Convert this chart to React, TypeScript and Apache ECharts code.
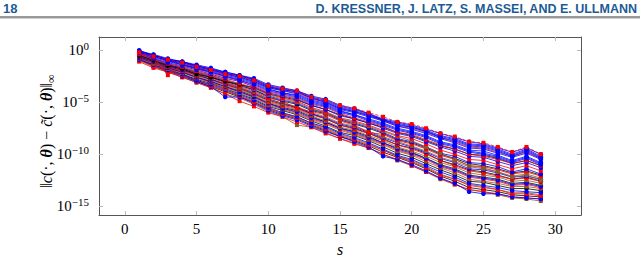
import React, { useEffect, useRef } from "react";
import * as echarts from "echarts";

// x positions (s) and log10 of the error for every run
const sValues = [1, 2, 3, 4, 5, 6, 7, 8, 9, 10, 11, 12, 13, 14, 15, 16, 17, 18, 19, 20, 21, 22, 23, 24, 25, 26, 27, 28, 29];

const blue01 = [-0.1,-0.4,-0.8,-1.1,-1.4,-1.7,-2.1,-2.4,-2.7,-3.3,-3.6,-3.9,-4.4,-4.7,-5.3,-5.6,-6.1,-6.6,-6.9,-7.2,-7.6,-8.0,-8.4,-8.8,-9.0,-9.4,-9.8,-9.4,-10.0];
const blue02 = [0.0,-0.5,-0.9,-1.1,-1.5,-1.8,-2.1,-2.4,-2.8,-3.4,-3.7,-3.9,-4.5,-4.8,-5.4,-5.7,-6.1,-6.7,-7.0,-7.3,-7.7,-8.2,-8.5,-9.0,-9.1,-9.5,-10.0,-9.5,-10.2];
const blue03 = [-0.1,-0.5,-0.9,-1.2,-1.5,-1.9,-2.2,-2.5,-2.9,-3.5,-3.8,-4.0,-4.6,-5.0,-5.6,-5.9,-6.3,-6.7,-7.2,-7.4,-7.8,-8.4,-8.7,-9.2,-9.3,-9.7,-10.2,-9.7,-10.4];
const blue04 = [-0.1,-0.5,-1.0,-1.2,-1.6,-1.9,-2.3,-2.6,-3.0,-3.6,-3.9,-4.2,-4.8,-5.1,-5.7,-6.0,-6.4,-6.8,-7.3,-7.6,-8.0,-8.5,-8.9,-9.4,-9.5,-9.9,-10.3,-9.9,-10.5];
const blue05 = [-0.2,-0.6,-1.0,-1.3,-1.7,-2.0,-2.4,-2.7,-3.1,-3.7,-4.1,-4.3,-4.9,-5.2,-5.8,-6.2,-6.6,-7.0,-7.5,-7.8,-8.2,-8.8,-9.1,-9.6,-9.7,-10.1,-10.6,-10.2,-10.8];
const blue06 = [-0.2,-0.7,-1.1,-1.4,-1.8,-2.1,-2.5,-2.9,-3.3,-3.9,-4.2,-4.5,-5.1,-5.4,-6.0,-6.3,-6.8,-7.2,-7.7,-8.0,-8.4,-9.0,-9.3,-9.8,-10.0,-10.3,-10.8,-10.4,-11.0];
const blue07 = [-0.3,-0.8,-1.2,-1.5,-1.9,-2.3,-2.7,-3.0,-3.5,-4.1,-4.4,-4.7,-5.3,-5.7,-6.3,-6.6,-7.0,-7.5,-8.0,-8.3,-8.8,-9.3,-9.7,-10.2,-10.3,-10.7,-11.1,-10.8,-11.3];
const blue08 = [-0.4,-0.9,-1.4,-1.7,-2.1,-2.5,-2.9,-3.3,-3.8,-4.4,-4.8,-5.1,-5.7,-6.0,-6.6,-7.0,-7.4,-7.9,-8.5,-8.8,-9.3,-9.9,-10.2,-10.8,-10.9,-11.2,-11.7,-11.4,-11.9];
const blue09 = [-0.6,-1.1,-1.5,-1.9,-2.3,-2.8,-3.2,-3.6,-4.1,-4.7,-5.1,-5.5,-6.1,-6.5,-7.1,-7.4,-7.9,-8.4,-8.9,-9.3,-9.8,-10.4,-10.8,-11.4,-11.5,-11.8,-12.2,-12.1,-12.4];
const blue10 = [-0.7,-1.2,-1.7,-2.1,-2.6,-3.0,-3.5,-4.0,-4.5,-5.1,-5.6,-5.9,-6.5,-6.9,-7.5,-7.9,-8.4,-8.9,-9.5,-9.9,-10.4,-11.1,-11.5,-12.1,-12.3,-12.5,-12.9,-12.8,-13.1];
const blue11 = [-0.9,-1.4,-1.9,-2.3,-2.9,-3.3,-3.8,-4.3,-4.8,-5.5,-6.0,-6.4,-7.0,-7.4,-8.0,-8.4,-8.9,-9.5,-10.1,-10.5,-11.1,-11.7,-12.2,-12.8,-13.0,-13.2,-13.5,-13.6,-13.7];
const blue12 = [-0.9,-1.5,-2.0,-2.5,-3.0,-3.5,-4.5,-4.5,-5.1,-5.8,-6.3,-6.7,-7.3,-7.8,-8.3,-8.8,-9.3,-10.2,-10.5,-11.0,-11.6,-12.3,-12.8,-13.6,-13.8,-13.8,-14.1,-14.2,-14.3];
const blue13 = [-0.1,-0.5,-0.9,-1.1,-1.5,-1.8,-2.2,-2.5,-2.8,-3.5,-3.8,-4.0,-4.6,-4.9,-5.5,-5.8,-6.2,-6.7,-7.1,-7.4,-7.8,-8.3,-8.6,-9.1,-9.2,-9.6,-10.1,-9.6,-10.3];
const blue14 = [-0.2,-0.6,-1.0,-1.4,-1.7,-2.1,-2.5,-2.8,-3.2,-3.8,-4.1,-4.4,-5.0,-5.3,-5.9,-6.2,-6.7,-7.1,-7.6,-7.9,-8.3,-8.9,-9.2,-9.7,-9.9,-10.2,-10.7,-10.3,-10.9];

const red01 = [-0.2,-0.6,-0.9,-1.2,-1.6,-1.9,-2.3,-2.5,-2.9,-3.4,-3.7,-3.9,-4.5,-4.8,-5.3,-5.6,-6.0,-6.4,-6.9,-7.1,-7.5,-8.0,-8.3,-8.8,-8.9,-9.3,-9.8,-9.3,-10.0];
const red02 = [-0.1,-0.5,-0.9,-1.2,-1.6,-1.9,-2.3,-2.6,-3.0,-3.6,-3.9,-4.1,-4.7,-5.0,-5.6,-5.9,-6.3,-6.8,-7.3,-7.5,-7.9,-8.4,-8.8,-9.3,-9.4,-9.8,-10.2,-9.8,-10.4];
const red03 = [-0.3,-0.7,-2.4,-1.4,-1.8,-2.2,-2.6,-2.9,-3.4,-4.0,-4.3,-4.6,-5.2,-5.5,-6.1,-6.5,-6.9,-7.3,-7.9,-8.1,-8.6,-9.1,-9.5,-10.0,-10.2,-10.5,-10.9,-10.6,-11.1];
const red04 = [-0.4,-0.8,-1.3,-1.6,-2.0,-2.4,-2.8,-3.2,-3.6,-4.2,-4.6,-4.9,-5.5,-5.9,-6.5,-6.8,-7.2,-7.7,-8.2,-8.5,-9.0,-9.6,-10.0,-10.5,-10.6,-11.0,-11.4,-11.1,-11.6];
const red05 = [-0.5,-1.0,-1.4,-1.8,-2.2,-2.6,-3.1,-3.5,-3.9,-4.6,-4.9,-5.6,-5.9,-6.2,-6.8,-7.2,-7.9,-8.1,-8.7,-9.0,-9.5,-10.1,-10.5,-11.1,-11.2,-11.5,-11.9,-11.7,-12.1];
const red06 = [-0.6,-1.1,-1.6,-2.0,-2.4,-2.8,-3.3,-3.7,-4.2,-4.9,-5.3,-5.6,-6.2,-6.6,-7.2,-7.6,-8.0,-8.6,-9.1,-9.5,-10.0,-10.6,-11.1,-11.6,-11.8,-12.1,-12.4,-12.3,-12.6];
const red07 = [-0.7,-1.3,-1.7,-2.1,-2.6,-3.1,-3.6,-4.0,-4.5,-5.2,-5.6,-6.0,-6.6,-7.0,-7.6,-8.0,-8.5,-9.0,-9.6,-10.0,-10.5,-11.2,-11.6,-12.2,-12.4,-12.6,-13.0,-12.9,-13.2];
const red08 = [-0.9,-1.5,-2.0,-2.4,-2.9,-3.4,-3.9,-4.4,-5.0,-5.6,-6.1,-6.5,-7.1,-7.6,-8.2,-8.6,-9.1,-9.6,-10.2,-10.7,-11.3,-12.0,-12.4,-13.0,-13.2,-13.4,-13.8,-13.8,-14.0];
const red09 = [-1.1,-1.7,-2.1,-2.6,-3.1,-3.6,-4.2,-4.9,-5.4,-6.0,-6.4,-6.9,-7.4,-8.0,-8.5,-9.0,-9.4,-10.0,-10.5,-11.1,-11.7,-12.3,-12.9,-13.4,-13.6,-13.8,-14.1,-14.2,-14.3];

const black01 = [-0.5,-1.0,-1.5,-1.8,-2.3,-2.6,-3.0,-3.3,-3.6,-4.2,-4.5,-4.8,-5.3,-5.7,-6.2,-6.6,-7.0,-7.4,-7.9,-8.2,-8.7,-9.2,-9.5,-10.0,-10.1,-10.4,-10.9,-10.6,-11.1];
const black02 = [-0.5,-0.9,-1.4,-1.7,-2.2,-2.6,-3.0,-3.4,-3.8,-4.5,-4.9,-5.2,-5.8,-6.1,-6.7,-7.1,-7.5,-8.0,-8.6,-8.9,-9.4,-10.0,-10.4,-10.9,-11.1,-11.4,-11.8,-11.6,-12.0];
const black03 = [-0.6,-1.1,-1.6,-1.9,-2.4,-2.8,-3.3,-3.7,-4.2,-4.8,-5.2,-5.5,-6.1,-6.6,-7.2,-7.5,-8.0,-8.5,-9.1,-9.4,-9.9,-10.6,-11.0,-11.5,-11.7,-12.0,-12.4,-12.2,-12.6];
const black04 = [-0.7,-1.2,-1.7,-2.1,-2.6,-3.0,-3.5,-3.9,-4.4,-5.1,-5.5,-5.8,-6.4,-6.9,-7.5,-7.8,-8.3,-8.9,-9.4,-9.8,-10.4,-11.0,-11.4,-12.0,-12.2,-12.4,-12.8,-12.7,-13.0];
const black05 = [-0.8,-1.4,-1.8,-2.3,-2.8,-3.2,-3.7,-4.2,-4.7,-5.4,-5.8,-6.2,-6.8,-7.3,-7.9,-8.2,-8.7,-9.3,-9.9,-10.3,-10.9,-11.5,-12.0,-12.6,-12.7,-13.0,-13.3,-13.3,-13.5];
const black06 = [-0.9,-1.5,-2.0,-2.4,-3.0,-3.5,-4.0,-4.5,-5.0,-5.7,-6.2,-6.6,-7.2,-7.7,-8.3,-8.7,-9.2,-9.8,-10.3,-10.8,-11.4,-12.1,-12.6,-13.2,-13.4,-13.6,-13.9,-14.0,-14.1];

const brown01 = [-0.4,-0.9,-1.3,-1.6,-2.1,-2.4,-2.9,-3.3,-3.7,-4.3,-4.7,-5.0,-5.6,-6.0,-6.6,-6.9,-7.3,-7.8,-8.3,-8.7,-9.3,-9.9,-10.5,-11.1,-11.3,-11.7,-12.2,-12.0,-12.5];
const brown02 = [-0.5,-1.0,-1.5,-1.8,-2.3,-2.7,-3.1,-3.6,-4.0,-4.7,-5.1,-5.4,-6.0,-6.4,-7.0,-7.3,-7.8,-8.3,-8.8,-9.2,-9.7,-10.3,-10.7,-11.2,-11.4,-11.7,-12.1,-11.9,-12.3];
const brown03 = [-0.6,-1.2,-1.6,-2.0,-2.5,-2.9,-3.4,-3.8,-4.3,-5.0,-5.4,-5.7,-6.3,-6.8,-7.4,-7.7,-8.2,-8.7,-9.3,-9.7,-10.2,-10.8,-11.2,-11.8,-12.0,-12.2,-12.6,-12.5,-12.8];
const brown04 = [-0.8,-1.3,-1.8,-2.2,-2.7,-3.1,-3.7,-4.1,-4.6,-5.3,-5.7,-6.1,-6.7,-7.1,-7.7,-8.1,-8.6,-9.1,-9.7,-10.1,-10.7,-11.3,-11.8,-12.4,-12.6,-12.8,-13.1,-13.1,-13.3];
const brown05 = [-0.9,-1.5,-1.9,-2.4,-2.9,-3.4,-3.9,-4.4,-4.9,-5.6,-6.1,-6.4,-7.0,-7.5,-8.1,-8.5,-9.0,-9.6,-10.2,-10.6,-11.2,-11.9,-12.4,-12.9,-13.1,-13.4,-13.7,-13.7,-13.9];
const brown06 = [-1.0,-1.6,-2.1,-2.6,-3.1,-3.6,-4.2,-4.6,-5.2,-5.9,-6.4,-7.2,-7.4,-7.9,-8.5,-8.9,-9.4,-10.0,-10.6,-11.1,-11.7,-12.4,-12.9,-13.4,-13.6,-13.9,-14.2,-14.3,-14.5];

const xTicks = [0, 5, 10, 15, 20, 25, 30];
const yTickExponents = [0, -5, -10, -15];

const blueRuns = [blue12, blue11, blue10, blue09, blue08, blue07, blue14, blue06, blue05, blue04, blue13, blue03, blue02, blue01];
const redRuns = [red09, red08, red07, red06, red05, red04, red03, red02];
const blackRuns = [black06, black05, black04, black03, black02, black01];
const brownRuns = [brown06, brown05, brown04, brown03, brown02, brown01];

const SERIF = "Liberation Serif";
const BLUE = "#0000ff";
const RED = "#ff0000";
const BLACK = "#000000";
const BROWN = "#8a5a2e";

function makeSeries(run: number[], color: string, symbol: string, dashed = false) {
  return {
    type: "line",
    data: run.map((v, i) => [sValues[i], v]),
    symbol,
    symbolSize: symbol === "rect" ? 4 : 4.5,
    showSymbol: true,
    lineStyle: { color, width: 0.8, type: dashed ? "dashed" : "solid" },
    itemStyle: { color },
    emphasis: { disabled: true },
    silent: true,
  };
}

export default function App() {
  const ref = useRef<HTMLDivElement>(null);
  useEffect(() => {
    if (!ref.current) return;
    const chart = echarts.init(ref.current, undefined, { renderer: "svg" });
    const series: any[] = [];
    const n = Math.max(blueRuns.length, redRuns.length, blackRuns.length, brownRuns.length);
    for (let i = 0; i < n; i++) {
      if (brownRuns[i]) series.push(makeSeries(brownRuns[i], BROWN, "rect"));
      if (blackRuns[i]) series.push(makeSeries(blackRuns[i], BLACK, "circle"));
      if (redRuns[i]) series.push(makeSeries(redRuns[i], RED, "rect"));
      if (blueRuns[i]) series.push(makeSeries(blueRuns[i], BLUE, "circle"));
    }
    series.push(makeSeries(red01, RED, "rect", true));

    const axisLine = { show: true, onZero: false, lineStyle: { color: "#555", width: 1 } };
    const tick = { inside: true, length: 4, lineStyle: { color: "#bbb", width: 1 } };

    chart.setOption({
      animation: false,
      grid: { left: 99, right: 59, top: 37, bottom: 37, containLabel: false },
      xAxis: [
        {
          type: "value", min: -1.8, max: 31.8, position: "bottom",
          axisLine, splitLine: { show: false },
          axisTick: { ...tick, customValues: xTicks },
          axisLabel: { customValues: xTicks, color: "#000", fontFamily: SERIF, fontSize: 15, margin: 6 },
          name: "s", nameLocation: "middle", nameGap: 25,
          nameTextStyle: { fontFamily: SERIF, fontStyle: "italic", fontSize: 16, color: "#000" },
        },
        {
          type: "value", min: -1.8, max: 31.8, position: "top",
          axisLine, splitLine: { show: false },
          axisTick: { ...tick, customValues: xTicks },
          axisLabel: { show: false },
        },
      ],
      yAxis: [
        {
          type: "value", min: -15.85, max: 1.27, position: "left",
          axisLine, splitLine: { show: false },
          axisTick: { ...tick, customValues: yTickExponents },
          axisLabel: {
            customValues: yTickExponents, margin: 10, fontFamily: SERIF,
            formatter: (v: number) => `{b|10}{e|${v === 0 ? "0" : "\u2212" + Math.abs(v)}}`,
            rich: {
              b: { fontFamily: SERIF, fontSize: 15, color: "#000" },
              e: { fontFamily: SERIF, fontSize: 11, color: "#000", padding: [0, 0, 9, 0] },
            },
          },
        },
        {
          type: "value", min: -15.85, max: 1.27, position: "right",
          axisLine, splitLine: { show: false },
          axisTick: { ...tick, customValues: yTickExponents },
          axisLabel: { show: false },
        },
      ],
      graphic: [
        { type: "rect", shape: { x: 0, y: 16, width: 640, height: 2.5 }, style: { fill: "#999" } },
        {
          type: "text", x: 3, y: 2,
          style: { text: "18", fill: "#1d5b95", fontFamily: "Liberation Sans", fontWeight: "bold", fontSize: 13 },
        },
        {
          type: "text", x: 637, y: 2,
          style: {
            text: "D. KRESSNER, J. LATZ, S. MASSEI, AND E. ULLMANN",
            fill: "#1d5b95", align: "right",
            fontFamily: "Liberation Sans", fontWeight: "bold", fontSize: 12.5,
          },
        },
        {
          type: "text", x: 46, y: 131, rotation: Math.PI / 2,
          style: {
            text: "{n|\u2016}{i|c}{n|(\u00b7, }{t|\u03b8}{n|) \u2212 }{i|c\u0303}{n|(\u00b7, }{t|\u03b8}{n|)\u2016}{sub|\u221e}",
            align: "center", verticalAlign: "middle",
            fontFamily: SERIF, fontSize: 16,
            rich: {
              n: { fontFamily: SERIF, fontSize: 16, fill: "#000" },
              i: { fontFamily: SERIF, fontStyle: "italic", fontSize: 16, fill: "#000" },
              t: { fontFamily: SERIF, fontStyle: "italic", fontWeight: "bold", fontSize: 16, fill: "#000" },
              sub: { fontFamily: SERIF, fontSize: 12, fill: "#000", padding: [9, 0, 0, 0] },
            },
          },
        },
      ],
      series,
    });
    return () => chart.dispose();
  }, []);
  return <div ref={ref} style={{ position: "absolute", left: 0, top: 0, width: 640, height: 262 }} />;
}
